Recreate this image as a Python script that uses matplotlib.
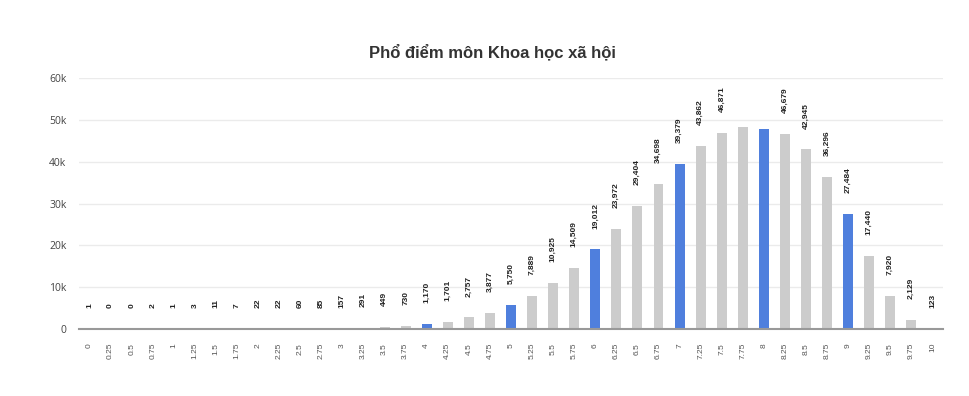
import matplotlib
matplotlib.use("Agg")
import matplotlib.pyplot as plt
from matplotlib.ticker import FuncFormatter

# Score steps (0 to 10 by 0.25) and number of candidates per step
scores = ["0", "0.25", "0.5", "0.75", "1", "1.25", "1.5", "1.75", "2", "2.25",
          "2.5", "2.75", "3", "3.25", "3.5", "3.75", "4", "4.25", "4.5", "4.75",
          "5", "5.25", "5.5", "5.75", "6", "6.25", "6.5", "6.75", "7", "7.25",
          "7.5", "7.75", "8", "8.25", "8.5", "8.75", "9", "9.25", "9.5", "9.75", "10"]
counts = [1, 0, 0, 2, 1, 3, 11, 7, 22, 22,
          60, 85, 157, 291, 449, 730, 1170, 1701, 2757, 3877,
          5750, 7889, 10925, 14509, 19012, 23972, 29404, 34698, 39379, 43862,
          46871, 48290, 47900, 46679, 42945, 36296, 27484, 17440, 7920, 2129, 123]
# whole-number scores are drawn in blue
highlight = ["4", "5", "6", "7", "8", "9", "10"]
# the two tallest bars have no label in the original
hidden_labels = ["7.75", "8"]

grey = "#cccccc"
blue = "#4f7fdd"

fig = plt.figure(figsize=(9.69, 3.96), dpi=100)
ax = fig.add_axes([79 / 969, 1 - 329 / 396, 864 / 969, 251 / 396])

x = list(range(len(scores)))
colors = [blue if s in highlight else grey for s in scores]
ax.bar(x, counts, width=0.47, color=colors, zorder=3)

# value labels above each bar
for xi, s, c in zip(x, scores, counts):
    if s in hidden_labels:
        continue
    ax.annotate(f"{c:,}", (xi, c), xytext=(0, 15), textcoords="offset points",
                ha="center", va="bottom", rotation=90, fontsize=6,
                family="Liberation Sans", fontweight="bold", color="#222222",
                annotation_clip=False)

ax.set_xlim(-0.5, len(scores) - 0.5)
ax.set_ylim(0, 60000)
ax.set_yticks(range(0, 60001, 10000))
ax.yaxis.set_major_formatter(FuncFormatter(lambda v, p: "0" if v == 0 else f"{int(v / 1000)}k"))
ax.set_xticks(x)
ax.set_xticklabels(scores, rotation=90, fontsize=6, family="Liberation Sans", color="#555555")

for lbl in ax.get_yticklabels():
    lbl.set_family("Open Sans")
    lbl.set_fontsize(7.5)
    lbl.set_color("#444444")

ax.tick_params(axis="both", length=0)
ax.tick_params(axis="y", pad=9)
ax.tick_params(axis="x", pad=10)
ax.grid(axis="y", color="#ebebeb", linewidth=1, zorder=0)
for side in ["top", "right", "left"]:
    ax.spines[side].set_visible(False)
ax.spines["bottom"].set_color("#999999")
ax.spines["bottom"].set_linewidth(1.5)
ax.spines["bottom"].set_zorder(4)

fig.text(492 / 969, 1 - 57 / 396, "Phổ điểm môn Khoa học xã hội", ha="center", va="baseline",
         fontsize=12, fontweight="bold", family="Liberation Sans", color="#333333")

fig.savefig("out.png", dpi=100)
